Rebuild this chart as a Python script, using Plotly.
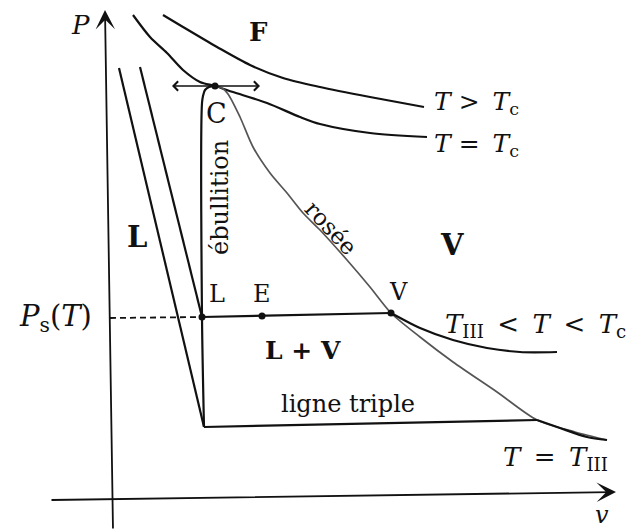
import plotly.graph_objects as go

# ---- data (specific volume v, pressure P, arbitrary units) ----
tsup_v = [52, 72, 106, 139, 172, 209, 259, 313]
tsup_P = [483, 471, 451, 433, 420, 411, 401, 391]

tc_v = [22, 39, 56, 72, 89, 104, 122, 156, 189, 209, 259, 316]
tc_P = [483, 461, 445, 428, 416, 412, 406, 395, 381, 374, 365, 361]

rosee_v = [104, 111, 117, 129, 142, 159, 176, 192, 209, 236, 259, 280, 309, 342, 386, 426, 464, 496]
rosee_P = [412, 410, 404, 381, 351, 325, 305, 285, 268, 238, 211, 185, 161, 136, 106, 78, 66, 58]

ebul_v = [104, 98, 94, 92, 91, 91, 93]
ebul_P = [412, 411, 408, 402, 395, 181, 71]

liqIII_v = [8, 93]
liqIII_P = [430, 71]
liqT_v = [29, 91]
liqT_P = [431, 181]

triple_v = [93, 426]
triple_P = [71, 78]
vapIII_v = [426, 449, 476, 496]
vapIII_P = [78, 70, 61, 58]

palier_v = [91, 280]
palier_P = [181, 185]
vapT_v = [280, 309, 342, 376, 409, 446]
vapT_P = [185, 170, 158, 150, 146, 146]

ps_dash_v = [-1, 91]
ps_dash_P = [180, 181]

pts_name = ["C", "L", "E", "V"]
pts_v = [104, 91, 151, 280]
pts_P = [412, 181, 182, 185]

FONT = "DejaVu Serif"
BLACK = "#111111"

fig = go.Figure()

def line(v, p, color=BLACK, width=2.2, dash="solid", shape="linear"):
    fig.add_trace(go.Scatter(x=v, y=p, mode="lines", hoverinfo="skip",
                             line=dict(color=color, width=width, dash=dash, shape=shape,
                                       smoothing=0.8)))

line(tsup_v, tsup_P, shape="spline")
line(tc_v, tc_P, shape="spline")
line(rosee_v, rosee_P, color="#555555", width=1.7, shape="spline")
line(ebul_v, ebul_P, shape="spline")
line(liqIII_v, liqIII_P)
line(liqT_v, liqT_P)
line(triple_v, triple_P)
line(vapIII_v, vapIII_P, shape="spline")
line(palier_v, palier_P)
line(vapT_v, vapT_P, shape="spline")
line(ps_dash_v, ps_dash_P, width=1.8, dash="6px,4px")

fig.add_trace(go.Scatter(x=pts_v, y=pts_P, mode="markers", hoverinfo="skip",
                         marker=dict(color=BLACK, size=7)))

ann = []
def arrow(x, y, ax, ay, head=2, size=1.6, width=1.8):
    ann.append(dict(x=x, y=y, ax=ax, ay=ay, xref="x", yref="y", axref="x", ayref="y",
                    text="", showarrow=True, arrowhead=head, arrowsize=size,
                    arrowwidth=width, arrowcolor=BLACK))

# axes
arrow(-6, 488, 2, -32, head=3, size=1.8)
arrow(505, 6, -61, -2, head=3, size=1.8)
# arrows at C
arrow(61, 412, 104, 412, head=4, size=1.2, width=1.5)
arrow(149, 412, 104, 412, head=4, size=1.2, width=1.5)

def text(x, y, s, size=22, angle=0, xanchor="center", yanchor="middle"):
    ann.append(dict(x=x, y=y, xref="x", yref="y", text=s, showarrow=False,
                    textangle=angle, xanchor=xanchor, yanchor=yanchor,
                    font=dict(family=FONT, size=size, color=BLACK)))

SP = "&#8201;"
text(-31, 473, "<i>P</i>", 26)
text(491, -17, "<i>v</i>", 24)
text(147, 466, "<b>F</b>", 26)
text(321, 395, "<i>T</i> &gt; " + SP + "<i>T</i><sub>c</sub>", 25, xanchor="left")
text(321, 353, "<i>T</i> = " + SP + "<i>T</i><sub>c</sub>", 25, xanchor="left")
text(26, 261, "<b>L</b>", 29)
text(109, 300, "ébullition", 24, angle=-90)
text(105, 385, "C", 27)
text(220, 270, "rosée", 23, angle=47)
text(341, 253, "<b>V</b>", 29)
text(106, 204, "L", 24)
text(151, 204, "E", 24)
text(287, 206, "V", 24)
text(-17, 180, "<i>P</i><sub>s</sub>(<i>T</i>)", 29, xanchor="right")
text(192, 148, "<b>L + V</b>", 25)
text(332, 173, "<i>T</i><sub>III</sub>" + SP + " &lt; " + SP + "<i>T</i>" + SP + " &lt; " + SP + "<i>T</i><sub>c</sub>", 26, xanchor="left")
text(237, 94, "ligne triple", 24)
text(444, 40, "<i>T</i>" + SP + " = " + SP + "<i>T</i><sub>III</sub>", 26)

# page body has an 8px margin: size the figure so that it fits the window
OFF = 8
fig.update_layout(
    width=640 - OFF, height=530 - OFF, margin=dict(l=0, r=0, t=0, b=0),
    paper_bgcolor="white", plot_bgcolor="white", showlegend=False,
    xaxis=dict(range=[-111 + OFF, 529], visible=False, fixedrange=True),
    yaxis=dict(range=[-32, 498 - OFF], visible=False, fixedrange=True),
    annotations=ann,
)

fig.write_html("out.html")
